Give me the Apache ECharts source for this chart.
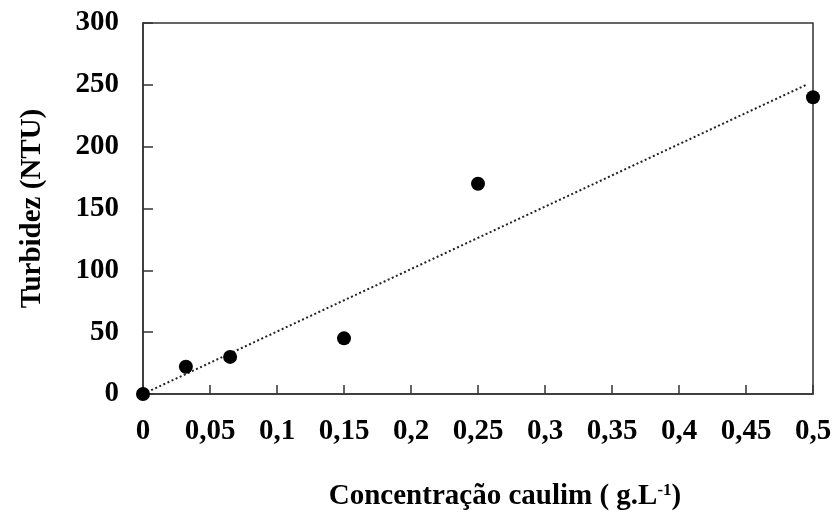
<!DOCTYPE html>
<html>
<head>
<meta charset="utf-8">
<script src="https://cdn.jsdelivr.net/npm/echarts@6/dist/echarts.min.js"></script>
<style>html,body{margin:0;padding:0;background:#fff}#c{width:834px;height:513px}</style>
</head>
<body>
<div id="c"></div>
<script>
const concentracao = [0, 0.032, 0.065, 0.15, 0.25, 0.5];
const turbidez = [0, 22, 30, 45, 170, 240];
const trendX = [0, 0.495];
const trendY = [0, 250];
const yTicks = [0, 50, 100, 150, 200, 250, 300];
const xTitle = 'Concentração caulim ( g.L';
const xTitleSup = '-1';
const yTitle = 'Turbidez (NTU)';

const FONT = '"Liberation Serif", "Times New Roman", serif';
const pts = concentracao.map((x, i) => [x, turbidez[i]]);
const trend = trendX.map((x, i) => [x, trendY[i]]);

const chart = echarts.init(document.getElementById('c'));
chart.setOption({
  animation: false,
  backgroundColor: '#fff',
  grid: { left: 143, right: 21, top: 23, bottom: 119, show: true, borderColor: '#333', borderWidth: 1.5,
          containLabel: false, outerBoundsMode: 'none' },
  xAxis: {
    type: 'value', min: 0, max: 0.5, interval: 0.05,
    name: '{a|' + xTitle + '}{s|' + xTitleSup + '}{a|)}',
    nameLocation: 'middle', nameGap: 88,
    nameTextStyle: {
      padding: [0, 0, 0, 54],
      rich: {
        a: { fontFamily: FONT, fontWeight: 'bold', fontSize: 29, color: '#000' },
        s: { fontFamily: FONT, fontWeight: 'bold', fontSize: 17, color: '#000', verticalAlign: 'top' }
      }
    },
    axisLine: { lineStyle: { color: '#333', width: 1.5 } },
    axisTick: { inside: true, length: 9, lineStyle: { color: '#333', width: 1.5 } },
    splitLine: { show: false },
    axisLabel: {
      margin: 23, color: '#000', fontFamily: FONT, fontWeight: 'bold', fontSize: 29,
      formatter: v => String(+v.toFixed(2)).replace('.', ',')
    }
  },
  yAxis: {
    type: 'value', min: 0, max: 300, interval: 50,
    name: yTitle, nameLocation: 'middle', nameGap: 96,
    nameTextStyle: { fontFamily: FONT, fontWeight: 'bold', fontSize: 29, color: '#000' },
    axisLine: { show: true, lineStyle: { color: '#333', width: 1.5 } },
    axisTick: { show: true, inside: true, length: 10, lineStyle: { color: '#333', width: 1.5 } },
    splitLine: { show: false },
    axisLabel: {
      margin: 24, color: '#000', fontFamily: FONT, fontWeight: 'bold', fontSize: 29,
      formatter: v => yTicks.includes(v) ? String(v) : ''
    }
  },
  series: [
    {
      type: 'line', data: trend, showSymbol: false, symbol: 'none', z: 1,
      lineStyle: { color: '#222', width: 2, type: [2, 2.5] }
    },
    {
      type: 'scatter', data: pts, symbol: 'circle', symbolSize: 14, z: 3, clip: false,
      itemStyle: { color: '#000', opacity: 1 }
    }
  ]
});
</script>
</body>
</html>
